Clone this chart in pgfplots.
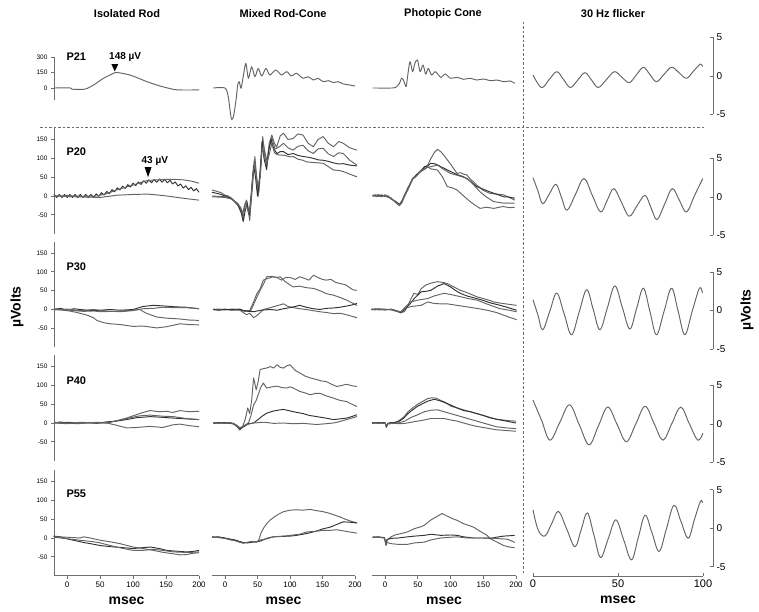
\documentclass[border=0pt]{standalone}
\usepackage{pgfplots}
\pgfplotsset{compat=1.18}
\usepackage{fontspec}
\setmainfont{Liberation Sans}
\definecolor{tr}{RGB}{100,100,100}
\definecolor{trd}{RGB}{50,50,50}
\definecolor{ax}{RGB}{110,110,110}
\pgfplotsset{
  common/.style={scale only axis, clip=false, anchor=south west,
    cycle list={{tr, line width=0.95pt, line join=round}},
    every axis plot/.append style={line width=0.95pt, line join=round, no markers},
    axis line style={ax, line width=0.8pt}, tick style={ax, line width=0.8pt},
    /pgf/number format/assume math mode=true, major tick length=3pt},
  erg/.style={common, xmin=-20, xmax=200, ymin=-100, ymax=180, height=105.3pt, tick align=outside},
  erg1/.style={common, xmin=-20, xmax=200, ymin=-120, ymax=300, height=43.4pt, tick align=outside},
  c1/.style={width=145pt, axis y line*=left, axis x line=none, xtick=\empty,
    yticklabel style={font=\fontsize{6.5}{6.5}\selectfont}},
  c1b/.style={width=145pt, axis y line*=left, axis x line*=bottom,
    yticklabel style={font=\fontsize{6.5}{6.5}\selectfont}, xtick={0,50,100,150,200},
    xticklabel style={font=\fontsize{8}{8}\selectfont}},
  c2/.style={width=143pt, hide axis},
  c3/.style={width=144pt, hide axis},
  cb/.style={axis x line*=bottom, axis y line=none, ytick=\empty, xtick={0,50,100,150,200},
    xticklabel style={font=\fontsize{8}{8}\selectfont}},
  msec/.style={xlabel={msec}, xlabel style={font=\bfseries\fontsize{14}{14}\selectfont, yshift=-2pt}},
  c4/.style={common, xmin=0, xmax=106, ymin=-5, ymax=5, width=180pt, height=77pt,
    axis y line*=right, axis x line=none, xtick=\empty, ytick={-5,0,5}, tick align=inside,
    yticklabel style={font=\fontsize{10}{10}\selectfont}},
  ergticks/.style={ytick={-50,0,50,100,150}},
}
\begin{document}
\begin{tikzpicture}
\path[use as bounding box] (0pt,0pt) rectangle (759pt,612pt);
% titles
\begin{scope}[font=\bfseries\fontsize{11}{11}\selectfont]
\node at (127pt,598pt) {Isolated Rod};
\node at (283pt,598pt) {Mixed Rod-Cone};
\node at (443pt,598pt) {Photopic Cone};
\node at (613pt,598pt) {30 Hz flicker};
\node[anchor=west] at (63pt,555pt) {P21};
\node[anchor=west] at (63pt,460pt) {P20};
\node[anchor=west] at (63pt,345pt) {P30};
\node[anchor=west] at (63pt,231pt) {P40};
\node[anchor=west] at (63pt,118pt) {P55};
\end{scope}
\node[font=\bfseries\fontsize{14}{14}\selectfont, rotate=90] at (17pt,305pt) {µVolts};
\node[font=\bfseries\fontsize{14}{14}\selectfont, rotate=90] at (747pt,302pt) {µVolts};
% dashed separators
\draw[ax, line width=0.7pt, dash pattern=on 2.5pt off 2pt] (40pt,485pt) -- (705pt,485pt);
\draw[ax, line width=0.7pt, dash pattern=on 2.5pt off 2pt] (523pt,590pt) -- (523pt,37pt);

%================ ROW 1 : P21 =================
\begin{axis}[erg1, c1, at={(54pt,511.6pt)}, ytick={0,150,300}]
\addplot[tr, smooth, tension=0.4] coordinates {(-20,0)(5,0)(7.5,-12)(25,-13)(30,-5)(40,29)(55,94)(65,126)(72.5,148)(80,146)(95,126)(108,95)(121,61)(141,19)(161,-13)(171,-19)(200,-19)};
\fill[black] (axis cs:67,232) -- (axis cs:77.5,232) -- (axis cs:72.2,160) -- cycle;
\node[font=\bfseries\fontsize{10}{10}\selectfont] at (axis cs:88,300) {148 µV};
\end{axis}
\begin{axis}[erg1, c2, at={(212pt,511.6pt)}]
\addplot[tr, smooth, tension=0.45] coordinates {(-18,0)(0,0)(5,-84)(7.7,-213)(10,-303)(13,-277)(17,-116)(19.5,29)(22,61)(24.6,-3)(28,109)(32,239)(36,94)(41,206)(46,109)(51,190)(56.5,116)(63,190)(69,126)(78,174)(87,126)(95,158)(102,116)(110,142)(120,94)(128,109)(136,77)(143,94)(151,61)(159,71)(167,52)(174,61)(182,39)(192,29)(200,19)};
\end{axis}
\begin{axis}[erg1, c3, at={(372pt,511.6pt)}]
\addplot[tr, smooth, tension=0.45] coordinates {(-19,0)(11,0)(17,10)(22,45)(25,94)(28,77)(32,13)(34,94)(38,255)(42,158)(45.5,239)(49.5,271)(53.5,158)(58,223)(62,135)(66,190)(71,126)(77,158)(85,103)(92,135)(100,94)(110,103)(120,84)(130,94)(140,77)(150,87)(161,71)(171,77)(181,61)(191,68)(198,45)};
\end{axis}
\begin{axis}[c4, at={(533pt,497.5pt)}]
\addplot[tr, smooth, tension=0.6] coordinates {(0,0.13)(5,-1.5)(9.5,-0.47)(14,0.56)(18,-0.47)(22,-1.5)(26.3,-0.54)(30.6,0.43)(34.5,-0.54)(38.4,-1.5)(43.2,-0.47)(48,0.56)(52.3,-0.16)(56.7,-0.87)(60.8,0.13)(65,1.13)(68.8,0.2)(72.7,-0.74)(77.1,0.2)(81.6,1.13)(86,0.42)(90.4,-0.3)(94.5,0.63)(98.6,1.56)(99.8,1.2)};
\end{axis}

%================ ROW 2 : P20 =================
\begin{axis}[erg, c1, ergticks, at={(54pt,378.4pt)}]
\addplot[trd] coordinates {(-20,4)(-16,-4)(-12,4)(-8,-4)(-4,4)(0,-4)(4,4)(8,-4)(12,4)(16,-4)(20,4)(24,-4)(28,4)(32,-4)(36,4)(40,-4)(44,5.6)(48,-0.8)(52,8.8)(56,2.4)(60,12)(64,6.4)(68,16.8)(72,11.2)(76,21.6)(80,16)(84,26)(88,20)(92,30)(96,24)(100,34)(104,27.6)(108,37.2)(112,30.8)(116,40.4)(120,34)(124,42.6)(128,35.2)(132,43.8)(136,36.4)(140,45)(144,36.6)(148,44.2)(152,35.2)(156,41.6)(160,32)(164,37.3)(168,26.5)(172,31.8)(176,21)(180,27)(184,17)(188,23)(192,13.2)(196,19.6)(200,10)};
\addplot[tr] coordinates {(-20,0)(0,1)(20,-1)(45,0)(60,6)(75,16)(90,24)(100,29)(110,35)(121,41)(135,43)(151,44)(165,44)(176,43)(190,39)(200,34)};
\addplot[tr] coordinates {(-20,0)(10,-2)(30,-3)(50,-4)(75,2)(100,4)(121,5)(135,3)(151,0)(176,-6)(190,-9)(200,-11)};
\fill[black] (axis cs:117.5,77) -- (axis cs:128,77) -- (axis cs:122.7,50) -- cycle;
\node[font=\bfseries\fontsize{10}{10}\selectfont] at (axis cs:133,93) {43 µV};
\end{axis}
\begin{axis}[erg, c2, at={(212pt,378.4pt)}]
\addplot[tr] coordinates {(-20,16)(-12,12)(-5,8)(0,2)(5,0)(13,-11)(20,-20)(26,-42)(28,-60)(31,-20)(33,-11)(36,-40)(38,-55)(42,20)(46,105)(49,40)(51,-2)(55,90)(58,158)(61,110)(64,78)(68,140)(72,162)(76,140)(79.5,130)(85,160)(90,167)(97,150)(105,153)(112,165)(120,162)(128,140)(136,131)(143,150)(151,158)(159,140)(167,131)(175,145)(182,140)(192,128)(203,122)};
\addplot[tr] coordinates {(-20,-2)(-10,-3)(0,-4)(10,-8)(18,-20)(24,-35)(27,-50)(30,-25)(34,-15)(38,-65)(41,10)(45,95)(48,60)(52,10)(55,70)(58,150)(61,120)(65,90)(68,130)(72,155)(77,125)(83,130)(90,140)(97,128)(105,122)(112,132)(120,135)(128,120)(136,113)(143,125)(151,127)(159,112)(167,105)(175,115)(182,113)(192,95)(203,82)};
\addplot[trd] coordinates {(-20,10)(-8,5)(0,0)(10,-6)(20,-25)(25,-45)(28,-68)(31,-40)(34,-20)(37,-50)(40,0)(44,80)(47,50)(50,0)(54,60)(57,145)(60,100)(64,70)(67,120)(71,150)(75,125)(80,113)(85,118)(90,118)(97,110)(105,113)(112,108)(120,105)(128,103)(136,100)(143,96)(151,95)(159,92)(167,88)(175,85)(182,86)(192,82)(203,80)};
\addplot[tr] coordinates {(-20,0)(-10,-1)(0,-2)(10,-8)(20,-22)(24,-30)(27,-45)(30,-30)(33,-25)(36,-45)(39,-30)(43,60)(46,90)(50,20)(54,50)(57,130)(60,110)(64,85)(68,110)(72,140)(76,115)(80,110)(85,109)(92,108)(100,104)(105,105)(112,98)(120,95)(125,91)(135,89)(145,88)(151,87)(159,78)(167,69)(175,68)(182,65)(192,58)(203,51)};
\end{axis}
\begin{axis}[erg, c3, at={(372pt,378.4pt)}]
\addplot[tr] coordinates {(-19,3)(-15,0)(-10,4)(-5,-2)(0,2)(5,-3)(9,-6)(15,-15)(22,-24)(26,-15)(29,-2)(35,20)(42,47)(48,55)(55,69)(60,75)(65,82)(70,100)(75,115)(80,124)(85,118)(90,108)(95,96)(100,85)(105,72)(110,60)(115,62)(120,58)(125,56)(130,45)(135,38)(140,29)(145,22)(150,15)(160,7)(170,5)(181,3)(190,-4)(198,-11)};
\addplot[trd] coordinates {(-19,0)(-15,3)(-10,-1)(-5,2)(0,-1)(5,0)(9,-8)(15,-13)(22,-22)(26,-12)(29,0)(35,22)(42,45)(48,57)(55,66)(60,78)(65,80)(70,87)(77,85)(85,78)(92,72)(100,65)(110,57)(120,51)(130,40)(140,25)(150,18)(160,11)(170,5)(181,-2)(190,-3)(198,-6)};
\addplot[tr] coordinates {(-19,2)(-12,-2)(-6,3)(0,0)(5,-4)(9,-5)(15,-16)(22,-26)(26,-17)(29,-4)(35,17)(42,44)(48,53)(55,68)(60,72)(65,76)(70,78)(80,82)(90,70)(100,60)(110,55)(125,47)(135,30)(145,11)(155,-3)(166,-15)(181,-19)(198,-19)};
\addplot[tr] coordinates {(-19,-1)(-12,2)(-6,-2)(0,3)(5,-2)(9,-7)(15,-14)(22,-23)(26,-14)(29,-1)(35,19)(42,46)(48,54)(55,66)(60,70)(65,78)(70,72)(80,69)(88,50)(95,25)(102,22)(110,16)(120,0)(130,-15)(138,-25)(145,-33)(155,-30)(166,-33)(180,-28)(190,-31)(198,-30)};
\end{axis}
\begin{axis}[c4, at={(533pt,376.5pt)}]
\addplot[tr, smooth, tension=0.6] coordinates {(0,2.5)(2.85,0.82)(5.7,-0.87)(9.6,0.39)(13.5,1.65)(16.75,-0.04)(20,-1.73)(25,0.34)(30,2.4)(34.9,0.23)(39.8,-1.95)(43.7,-0.43)(47.6,1.09)(52.1,-0.7)(56.6,-2.5)(61.25,-1.14)(65.9,0.22)(69.45,-1.36)(73,-2.94)(77.5,-0.93)(82,1.09)(86.2,-0.43)(90.4,-1.95)(95.2,0.23)(100,2.4)};
\end{axis}

%================ ROW 3 : P30 =================
\begin{axis}[erg, c1, ergticks, at={(54pt,264.9pt)}]
\addplot[trd] coordinates {(-20,0)(-10,3)(0,-2)(10,2)(20,0)(35,-3)(50,-2)(65,0)(80,-2)(100,0)(115,8)(131,11)(150,9)(165,7)(180,6)(200,2)};
\addplot[tr] coordinates {(-20,2)(-5,0)(10,-3)(25,-5)(40,-4)(50,-6)(70,-5)(90,-3)(100,-2)(110,0)(120,-10)(136,-20)(150,-23)(170,-25)(185,-28)(200,-29)};
\addplot[tr] coordinates {(-20,0)(0,-3)(15,-8)(30,-15)(40,-22)(45,-29)(55,-35)(65,-38)(80,-40)(100,-45)(115,-44)(136,-49)(150,-46)(171,-38)(185,-40)(200,-41)};
\addplot[tr] coordinates {(-20,-1)(0,1)(20,-3)(40,0)(60,-4)(80,-6)(100,-3)(115,2)(131,3)(145,6)(161,5)(180,5)(200,2)};
\end{axis}
\begin{axis}[erg, c2, at={(212pt,264.9pt)}]
\addplot[tr] coordinates {(-18,0)(-10,-1)(0,1)(10,-1)(23,0)(30,-3)(38,-3)(44,20)(49,42)(54,55)(59,78)(65,82)(74,87)(80,85)(87,78)(93,85)(100,85)(108,80)(115,87)(122,83)(129,78)(136,91)(143,85)(150,80)(156,78)(163,80)(170,72)(177,69)(185,66)(192,58)(197,52)(203,51)};
\addplot[tr] coordinates {(-18,1)(-10,0)(0,-1)(10,1)(23,-1)(30,-5)(40,-2)(47,25)(54,51)(60,70)(64,87)(72,88)(80,85)(85,87)(92,75)(100,65)(105,60)(115,62)(125,58)(136,56)(146,50)(156,42)(167,38)(177,32)(187,25)(195,18)(203,11)};
\addplot[tr] coordinates {(-18,-1)(-10,1)(0,0)(10,-2)(23,-2)(28,-8)(33,-14)(38,-10)(44,-22)(50,-15)(59,0)(70,5)(80,10)(90,15)(97,8)(105,5)(115,2)(125,0)(135,-3)(146,-6)(156,-8)(167,-11)(177,-10)(187,-14)(195,-18)(203,-22)};
\addplot[trd] coordinates {(-18,0)(-10,-2)(0,0)(10,0)(23,1)(28,-3)(36,-5)(44,-6)(55,-2)(70,0)(80,-2)(90,2)(100,5)(108,8)(115,11)(125,6)(136,2)(146,0)(156,3)(167,4)(177,6)(187,9)(195,12)(203,16)};
\end{axis}
\begin{axis}[erg, c3, at={(372pt,264.9pt)}]
\addplot[tr] coordinates {(-21,0)(-15,1)(-10,-1)(0,0)(9,0)(15,-3)(24,-9)(30,-5)(36,15)(40,30)(44,43)(50,40)(55,55)(62,65)(70,70)(80,74)(88,72)(95,69)(105,60)(115,51)(125,45)(133,39)(140,34)(150,29)(160,24)(166,20)(176,17)(188,14)(201,11)};
\addplot[trd] coordinates {(-21,1)(-15,-1)(-10,1)(0,-1)(9,1)(15,-2)(24,-8)(30,0)(38,15)(45,30)(55,47)(62,48)(70,51)(80,62)(90,69)(100,60)(108,50)(115,43)(125,36)(140,29)(150,24)(160,18)(176,11)(188,5)(201,-2)};
\addplot[tr] coordinates {(-21,-1)(-15,0)(-10,2)(0,1)(9,-1)(15,-4)(24,-7)(30,5)(39,20)(50,25)(65,29)(75,36)(90,43)(100,40)(115,34)(130,28)(140,25)(155,15)(166,8)(176,2)(190,-2)(201,-6)};
\addplot[tr] coordinates {(-21,0)(-15,2)(-10,0)(0,-1)(9,0)(15,-2)(24,-6)(30,3)(40,8)(55,11)(65,20)(75,16)(85,15)(95,15)(110,11)(125,7)(140,3)(156,-2)(170,-8)(181,-15)(192,-22)(201,-27)};
\end{axis}
\begin{axis}[c4, at={(533pt,263pt)}]
\addplot[tr, smooth, tension=0.6] coordinates {(0,1.4)(2.85,-0.55)(5.7,-2.5)(9.85,-0.12)(14,2.26)(18.35,-0.45)(22.7,-3.16)(27.15,-0.23)(31.6,2.7)(35.5,0.1)(39.4,-2.5)(43.8,0.35)(48.2,3.2)(52.6,0.4)(57,-2.4)(61,0.25)(65,2.9)(68.85,-0.13)(72.7,-3.16)(77.15,-0.13)(81.6,2.9)(85.5,-0.13)(89.4,-3.16)(93.7,-0.13)(98,2.9)(99.8,2.26)};
\end{axis}

%================ ROW 4 : P40 =================
\begin{axis}[erg, c1, ergticks, at={(54pt,151.4pt)}]
\addplot[tr] coordinates {(-20,0)(-10,3)(0,0)(15,-2)(30,0)(45,2)(60,0)(75,6)(90,13)(105,22)(115,28)(126,33)(140,30)(151,31)(160,28)(171,33)(185,30)(200,31)};
\addplot[trd] coordinates {(-20,2)(-10,0)(0,2)(15,0)(30,1)(45,-1)(60,3)(75,5)(90,9)(105,14)(126,17)(145,15)(161,13)(180,11)(200,9)};
\addplot[tr] coordinates {(-20,0)(0,-2)(20,2)(40,0)(60,0)(75,6)(90,12)(110,19)(126,21)(145,18)(161,17)(180,12)(200,9)};
\addplot[tr] coordinates {(-20,1)(0,0)(20,-1)(40,1)(60,0)(75,-6)(90,-13)(105,-12)(126,-9)(145,-12)(160,-5)(171,-3)(185,-7)(200,-10)};
\end{axis}
\begin{axis}[erg, c2, at={(212pt,151.4pt)}]
\addplot[tr] coordinates {(-18,0)(-10,1)(0,-1)(8,0)(13,-2)(18,-8)(23,-19)(27,-10)(31,9)(35,40)(38,25)(41,60)(44,120)(48,88)(51,110)(54,142)(60,145)(64,146)(70,150)(75,146)(80,155)(85,148)(90,146)(95,152)(100,155)(108,140)(115,133)(123,125)(131,120)(140,116)(148,112)(156,110)(164,103)(172,97)(180,100)(187,103)(195,99)(203,97)};
\addplot[tr] coordinates {(-18,1)(-10,0)(0,0)(8,-1)(13,-3)(18,-9)(23,-17)(27,-12)(31,-5)(36,0)(40,20)(44,48)(48,60)(51,75)(55,95)(59,106)(64,93)(72,96)(80,98)(88,94)(95,93)(100,96)(105,93)(115,84)(123,80)(131,75)(140,79)(146,79)(156,72)(167,66)(177,60)(187,57)(195,50)(203,44)};
\addplot[trd] coordinates {(-18,-1)(-10,0)(0,1)(8,0)(13,-1)(18,-7)(23,-15)(27,-11)(31,-8)(36,-2)(44,0)(50,8)(57,18)(64,26)(75,32)(85,35)(90,36)(98,33)(105,30)(120,25)(130,20)(141,17)(155,13)(167,9)(177,11)(187,13)(195,17)(203,22)};
\addplot[tr] coordinates {(-18,0)(-10,-1)(0,0)(8,1)(13,-2)(18,-6)(23,-13)(27,-9)(31,-6)(36,-3)(44,0)(60,2)(75,-1)(90,0)(105,-2)(120,-1)(141,-4)(155,-2)(167,0)(177,4)(187,9)(195,13)(203,17)};
\end{axis}
\begin{axis}[erg, c3, at={(372pt,151.4pt)}]
\addplot[tr] coordinates {(-20,0)(-10,1)(-3,0)(0,1)(2,-12)(4,-2)(8,0)(15,2)(20,5)(28,15)(35,30)(42,40)(50,50)(58,58)(65,65)(72,67)(78,66)(85,60)(92,55)(100,45)(110,40)(120,35)(130,30)(140,25)(150,20)(160,15)(170,10)(180,8)(190,6)(200,5)};
\addplot[trd] coordinates {(-20,1)(-10,0)(-3,1)(0,0)(2,-10)(4,-1)(8,1)(15,1)(20,3)(28,12)(35,25)(42,35)(50,45)(58,52)(65,58)(75,63)(82,60)(90,55)(100,48)(110,40)(120,33)(130,30)(140,25)(150,20)(160,14)(170,10)(185,5)(200,0)};
\addplot[tr] coordinates {(-20,-1)(-10,0)(-3,-1)(0,0)(2,-8)(4,-2)(8,0)(15,0)(20,0)(30,5)(40,15)(50,22)(60,30)(70,34)(80,35)(90,30)(100,25)(110,20)(120,15)(130,10)(140,5)(150,0)(160,-5)(170,-10)(185,-13)(200,-15)};
\addplot[tr] coordinates {(-20,0)(-10,-1)(-3,0)(0,-1)(2,-6)(4,-3)(8,-2)(15,-1)(20,-2)(30,-1)(40,2)(50,5)(60,8)(70,12)(80,12)(90,12)(100,8)(110,5)(120,0)(130,-5)(140,-9)(150,-12)(160,-15)(170,-18)(185,-20)(200,-22)};
\end{axis}
\begin{axis}[c4, at={(533pt,149.5pt)}]
\addplot[tr, smooth, tension=0.6] coordinates {(0,3.1)(5,0.5)(10,-2.1)(15.75,0.2)(21.5,2.5)(27.25,-0.1)(33,-2.7)(38.5,-0.25)(44,2.2)(49.5,-0.05)(55,-2.3)(60.5,0)(66,2.3)(71.25,0.1)(76.5,-2.1)(81.75,0.05)(87,2.2)(92,0.05)(97,-2.1)(100,-1.2)};
\end{axis}

%================ ROW 5 : P55 =================
\begin{axis}[erg, c1b, ergticks, msec, at={(54pt,36.4pt)}]
\addplot[trd] coordinates {(-21,5)(-10,3)(0,-2)(4,-4)(15,-8)(25,-12)(35,-15)(50,-20)(65,-23)(80,-25)(100,-28)(113,-26)(126,-24)(140,-28)(151,-33)(165,-35)(181,-37)(190,-36)(200,-33)};
\addplot[tr] coordinates {(-20,3)(0,2)(10,1)(19,0)(25,3)(35,0)(50,-6)(65,-10)(80,-15)(100,-24)(115,-28)(131,-33)(145,-38)(161,-42)(172,-45)(181,-44)(190,-41)(200,-39)};
\addplot[tr] coordinates {(-20,2)(0,-2)(10,-4)(19,-6)(30,-8)(40,-10)(50,-13)(65,-20)(80,-26)(100,-33)(115,-33)(131,-30)(145,-33)(161,-37)(175,-38)(190,-38)(200,-37)};
\end{axis}
\begin{axis}[erg, width=143pt, cb, msec, at={(212pt,36.4pt)}]
\addplot[tr] coordinates {(-20,3)(-10,2)(0,-1)(8,-4)(15,-6)(22,-10)(28,-13)(35,-12)(42,-10)(49,-11)(52,-5)(56,16)(60,28)(65,40)(69,47)(75,55)(82,63)(90,70)(100,74)(110,75)(120,74)(131,76)(140,73)(151,70)(160,66)(170,60)(177,56)(185,50)(195,44)(203,40)};
\addplot[trd] coordinates {(-20,2)(-10,3)(0,0)(8,-3)(15,-5)(22,-9)(28,-12)(35,-13)(42,-11)(49,-10)(55,-8)(60,-4)(66,0)(74,3)(85,4)(100,5)(110,7)(126,12)(140,18)(150,24)(162,29)(172,36)(182,43)(192,42)(203,40)};
\addplot[tr] coordinates {(-20,3)(-10,1)(0,-1)(8,-5)(15,-7)(22,-11)(28,-14)(35,-11)(42,-9)(49,-10)(55,-5)(65,-2)(74,3)(90,5)(105,8)(115,10)(126,16)(140,18)(150,20)(160,20)(172,22)(185,18)(195,15)(203,13)};
\end{axis}
\begin{axis}[erg, width=144pt, cb, msec, at={(372pt,36.4pt)}]
\addplot[tr] coordinates {(-19,3)(-10,2)(-1,0)(1.5,-20)(3,-5)(5,-3)(9,3)(15,8)(25,12)(34,16)(45,25)(55,30)(60,34)(70,48)(80,58)(87,65)(95,58)(105,50)(110,47)(120,38)(135,29)(145,18)(155,8)(161,-2)(170,-10)(181,-20)(190,-24)(198,-26)};
\addplot[trd] coordinates {(-19,2)(-10,3)(-1,1)(1.5,-18)(3,-4)(9,-1)(20,0)(34,3)(45,5)(60,7)(70,10)(85,7)(100,8)(110,7)(120,3)(135,0)(150,0)(161,-1)(170,2)(181,5)(190,6)(198,7)};
\addplot[tr] coordinates {(-19,1)(-10,2)(-1,0)(1.5,-16)(3,-12)(9,-15)(20,-17)(34,-17)(45,-13)(60,-11)(70,-5)(85,0)(100,2)(110,3)(125,0)(135,0)(150,0)(161,0)(175,-2)(186,-3)(195,-9)(198,-12)};
\end{axis}
\begin{axis}[c4, at={(533pt,45.2pt)}]
\addplot[tr, smooth, tension=0.6] coordinates {(0,2.4)(3,-0.2)(7,-1.0)(11,0.6)(15,2.2)(19.85,-0.1)(24.7,-2.4)(28.35,-0.2)(32,2.0)(35.9,-0.9)(39.8,-3.8)(44.3,-1.35)(48.8,1.1)(53.4,-1.5)(58,-4.1)(62,-1.2)(66,1.7)(70.15,-0.65)(74.3,-3.0)(78.65,0)(83,3.0)(87.2,0.85)(91.4,-1.3)(95,1.1)(98.6,3.5)(99.8,3.3)};
\end{axis}
\begin{axis}[common, at={(533pt,36pt)}, width=170pt, height=8pt, xmin=0, xmax=100, ymin=0, ymax=1,
  axis x line*=bottom, axis y line=none, ytick=\empty, xtick={0,50,100}, tick align=inside,
  xticklabel style={font=\fontsize{11}{11}\selectfont}, msec]
\addplot[draw=none] coordinates {(0,0)(100,1)};
\end{axis}
\end{tikzpicture}
\end{document}
